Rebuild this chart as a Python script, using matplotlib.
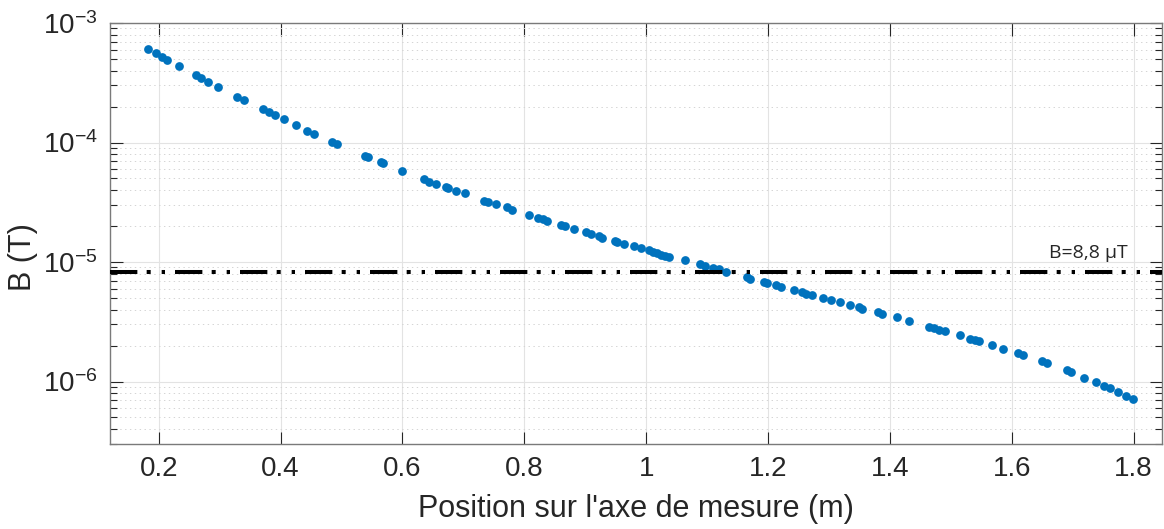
import numpy as np
import matplotlib
matplotlib.use("Agg")
import matplotlib.pyplot as plt
from matplotlib.ticker import LogLocator, NullFormatter

plt.rcParams['font.family'] = ['Liberation Sans', 'DejaVu Sans']
plt.rcParams['mathtext.fontset'] = 'custom'
plt.rcParams['mathtext.rm'] = 'Liberation Sans'
plt.rcParams['mathtext.it'] = 'Liberation Sans'
plt.rcParams['mathtext.default'] = 'regular'
plt.rcParams['lines.scale_dashes'] = False

# position along the measuring axis (m)
position = [
    0.182, 0.196, 0.205, 0.214, 0.234, 0.261, 0.270, 0.281, 0.298, 0.328,
    0.340, 0.371, 0.381, 0.390, 0.405, 0.425, 0.443, 0.455, 0.485, 0.493,
    0.539, 0.544, 0.564, 0.568, 0.599, 0.636, 0.644, 0.655, 0.672, 0.675,
    0.688, 0.702, 0.734, 0.741, 0.754, 0.772, 0.779, 0.808, 0.823, 0.830,
    0.837, 0.860, 0.867, 0.882, 0.902, 0.909, 0.922, 0.927, 0.949, 0.952,
    0.964, 0.980, 0.991, 1.004, 1.011, 1.018, 1.025, 1.031, 1.037, 1.064,
    1.088, 1.097, 1.110, 1.120, 1.131, 1.165, 1.171, 1.193, 1.199, 1.213,
    1.222, 1.242, 1.256, 1.262, 1.272, 1.290, 1.304, 1.318, 1.334, 1.349,
    1.355, 1.380, 1.387, 1.411, 1.432, 1.464, 1.472, 1.480, 1.491, 1.515,
    1.532, 1.540, 1.546, 1.567, 1.586, 1.610, 1.618, 1.649, 1.657, 1.690,
    1.698, 1.719, 1.739, 1.752, 1.762, 1.774, 1.787, 1.799,
]

# magnetic field (T)
field = [
    6.05e-4, 5.57e-4, 5.24e-4, 4.95e-4, 4.36e-4, 3.65e-4, 3.44e-4, 3.22e-4, 2.90e-4, 2.42e-4,
    2.26e-4, 1.89e-4, 1.79e-4, 1.70e-4, 1.57e-4, 1.40e-4, 1.26e-4, 1.18e-4, 1.01e-4, 9.70e-5,
    7.72e-5, 7.50e-5, 6.92e-5, 6.70e-5, 5.82e-5, 4.94e-5, 4.69e-5, 4.48e-5, 4.26e-5, 4.19e-5,
    3.94e-5, 3.77e-5, 3.27e-5, 3.17e-5, 3.04e-5, 2.86e-5, 2.75e-5, 2.47e-5, 2.34e-5, 2.27e-5,
    2.21e-5, 2.05e-5, 1.99e-5, 1.90e-5, 1.78e-5, 1.73e-5, 1.65e-5, 1.60e-5, 1.50e-5, 1.47e-5,
    1.41e-5, 1.35e-5, 1.30e-5, 1.25e-5, 1.21e-5, 1.18e-5, 1.14e-5, 1.12e-5, 1.10e-5, 1.03e-5,
    9.55e-6, 9.22e-6, 8.96e-6, 8.67e-6, 8.26e-6, 7.46e-6, 7.25e-6, 6.81e-6, 6.67e-6, 6.43e-6,
    6.17e-6, 5.83e-6, 5.61e-6, 5.45e-6, 5.32e-6, 5.04e-6, 4.80e-6, 4.62e-6, 4.37e-6, 4.18e-6,
    4.08e-6, 3.78e-6, 3.69e-6, 3.44e-6, 3.21e-6, 2.87e-6, 2.78e-6, 2.72e-6, 2.63e-6, 2.44e-6,
    2.29e-6, 2.21e-6, 2.17e-6, 2.02e-6, 1.88e-6, 1.72e-6, 1.66e-6, 1.48e-6, 1.43e-6, 1.24e-6,
    1.19e-6, 1.08e-6, 9.89e-7, 9.24e-7, 8.74e-7, 8.20e-7, 7.63e-7, 7.19e-7,
]

threshold = 8.2e-6
threshold_label = "B=8,8 \u00b5T"

x_ticks = [0.2, 0.4, 0.6, 0.8, 1.0, 1.2, 1.4, 1.6, 1.8]
x_tick_labels = ['0.2', '0.4', '0.6', '0.8', '1', '1.2', '1.4', '1.6', '1.8']
y_ticks = [1e-6, 1e-5, 1e-4, 1e-3]
y_tick_labels = ['$10^{-6}$', '$10^{-5}$', '$10^{-4}$', '$10^{-3}$']

text_col = '#262626'

fig = plt.figure(figsize=(11.64, 5.29), dpi=100)
ax = fig.add_axes([0.0945, 0.1607, 0.9035, 0.7958])

ax.set_yscale('log')
ax.set_xlim(0.12, 1.846)
ax.set_ylim(3e-7, 1e-3)

ax.plot(position, field, 'o', color='#0072BD', markersize=6.3, markeredgewidth=0, zorder=3)

hl, = ax.plot([0.12, 1.846], [threshold, threshold], color='black', linewidth=2.9,
              solid_capstyle='butt', dash_capstyle='butt', zorder=4)
hl.set_dashes([19.7, 6.7, 2.9, 7.9, 2.4, 7.2])

ax.text(1.790, 1.19e-5, threshold_label, ha='right', va='center', fontsize=14,
        color=text_col, family=['Open Sans', 'DejaVu Sans'])

ax.set_xticks(x_ticks)
ax.set_xticklabels(x_tick_labels)
ax.set_yticks(y_ticks)
ax.set_yticklabels(y_tick_labels)
ax.yaxis.set_minor_locator(LogLocator(base=10, subs=np.arange(2, 10), numticks=20))
ax.yaxis.set_minor_formatter(NullFormatter())

ax.tick_params(which='both', direction='in', top=True, right=True, colors=text_col,
               labelsize=20, width=0.8)
ax.tick_params(which='major', length=9, pad=9)
ax.tick_params(which='minor', length=5)
ax.tick_params(axis='x', which='minor', bottom=False, top=False)

ax.grid(True, which='major', color='#e3e3e3', linewidth=0.8, linestyle='-', zorder=0)
ax.grid(True, which='minor', axis='y', color='#d4d4d4', linewidth=0.7, linestyle=(0, (1, 2.5)), zorder=0)
ax.set_axisbelow(True)

for s in ax.spines.values():
    s.set_color('#7a7a7a')
    s.set_linewidth(1.0)

ax.set_xlabel("Position sur l'axe de mesure (m)", fontsize=22, color=text_col, labelpad=8)
ax.set_ylabel("B (T)", fontsize=22, color=text_col)
ax.yaxis.set_label_coords(-0.068, 0.444)

fig.savefig('out.png', dpi=100)
